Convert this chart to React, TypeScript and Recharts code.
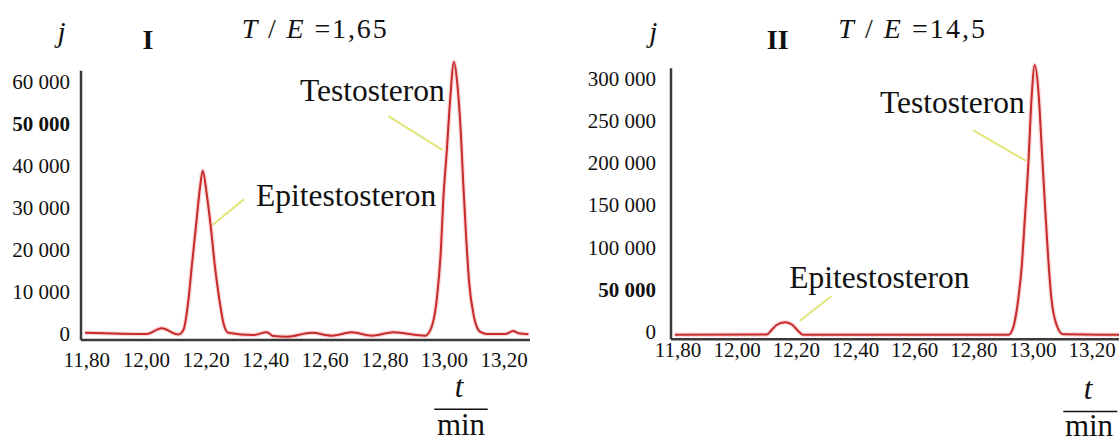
import React from "react";
import { LineChart, Line, XAxis, YAxis, ReferenceLine } from "recharts";

// ---------- Panel I data (t in min, j signal) ----------
const timeI = [
  11.794, 12.001, 12.051, 12.107, 12.124, 12.141, 12.152, 12.166, 12.18, 12.189,
  12.202, 12.216, 12.23, 12.245, 12.26, 12.275, 12.359, 12.404, 12.426, 12.471,
  12.555, 12.622, 12.689, 12.756, 12.829, 12.935, 12.957, 12.974, 12.988, 12.996,
  13.008, 13.019, 13.032, 13.043, 13.055, 13.063, 13.072, 13.083, 13.099, 13.119,
  13.142, 13.203, 13.231, 13.248, 13.282,
];
const signalI = [
  300, 0, 1350, -100, 950, 8100, 16000, 25500, 35000, 38900,
  33500, 25500, 16000, 8100, 2150, 300, -240, 400, -480, -640,
  300, -400, 400, -400, 400, -400, 1700, 8100, 20000, 31900,
  43800, 55700, 64800, 59700, 47800, 35900, 24000, 12100, 4100, 550,
  0, 0, 700, 170, -70,
];

// ---------- Panel II data ----------
const timeII = [
  11.789, 12.1, 12.116, 12.133, 12.162, 12.187, 12.205, 12.222, 12.917, 12.934,
  12.95, 12.962, 12.973, 12.984, 12.995, 13.006, 13.019, 13.03, 13.041, 13.052,
  13.063, 13.08, 13.102, 13.291,
];
const signalII = [
  -3000, -2600, 2700, 8600, 11800, 8600, 1900, -2800, -3000, 6600,
  38200, 77600, 136700, 195800, 274700, 316100, 282600, 215600, 148500, 85500,
  38200, 8600, -2400, -3000,
];

// ---------- Axes ----------
const xTicks = [11.8, 12.0, 12.2, 12.4, 12.6, 12.8, 13.0, 13.2];
const yTicksI = [0, 10000, 20000, 30000, 40000, 50000, 60000];
const yTicksII = [0, 50000, 100000, 150000, 200000, 250000, 300000];
const boldTickI = 50000;
const boldTickII = 50000;

const xDomainI: [number, number] = [11.7805, 13.287];
const yDomainI: [number, number] = [-1430, 66200];
const yAxisTopI = 62670;
const xDomainII: [number, number] = [11.776, 13.291];
const yDomainII: [number, number] = [-8280, 326750];
const yAxisTopII = 312200;

// leader lines (data coords): [t1, j1, t2, j2]
const leaderTestoI = [12.812, 51900, 12.994, 43800];
const leaderEpiI = [12.327, 32060, 12.222, 25940];
const leaderTestoII = [12.798, 239200, 12.976, 202600];
const leaderEpiII = [12.319, 42900, 12.212, 13700];

const dataI = timeI.map((t, i) => ({ t, j: signalI[i] }));
const dataII = timeII.map((t, i) => ({ t, j: signalII[i] }));

const FONT = '"Liberation Serif", "Times New Roman", serif';
const LINE = "#c92a2a";
const AXIS = "#3a3a3a";
const LEADER = "#e2e57a";

const fmtX = (v: number) => v.toFixed(2).replace(".", ",");
const fmtY = (v: number) => (v === 0 ? "0" : `${Math.round(v / 1000)} 000`);

const makeXTick = (off: number) => (props: any) => {
  const { x, y, payload } = props;
  return (
    <text x={x} y={y + off} textAnchor="middle" fontFamily={FONT} fontSize={21} fill="#111">
      {fmtX(payload.value)}
    </text>
  );
};

const makeYTick = (gap: number, bold: number) => (props: any) => {
  const { x, y, payload } = props;
  return (
    <text
      x={x - gap}
      y={y + 7}
      textAnchor="end"
      fontFamily={FONT}
      fontSize={21}
      fontWeight={payload.value === bold ? "bold" : "normal"}
      fill="#111"
    >
      {fmtY(payload.value)}
    </text>
  );
};

const leader = (l: number[], key: string) => (
  <ReferenceLine
    key={key}
    segment={[
      { x: l[0], y: l[1] },
      { x: l[2], y: l[3] },
    ]}
    stroke={LEADER}
    strokeWidth={2}
    ifOverflow="visible"
  />
);

function Panel(props: {
  left: number;
  width: number;
  yAxisWidth: number;
  marginRight: number;
  marginBottom: number;
  data: any[];
  xDomain: [number, number];
  yDomain: [number, number];
  yTicks: number[];
  yAxisTop: number;
  xOff: number;
  yGap: number;
  bold: number;
  leaders: number[][];
}) {
  const p = props;
  return (
    <div style={{ position: "absolute", left: p.left, top: 0 }}>
      <LineChart
        width={p.width}
        height={444}
        data={p.data}
        margin={{ top: 56, right: p.marginRight, bottom: p.marginBottom, left: 0 }}
      >
        <XAxis
          dataKey="t"
          type="number"
          domain={p.xDomain}
          ticks={xTicks}
          interval={0}
          tickSize={0}
          tickMargin={0}
          tickLine={false}
          height={30}
          axisLine={{ stroke: AXIS, strokeWidth: 2.5 }}
          tick={makeXTick(p.xOff)}
        />
        <YAxis
          type="number"
          domain={p.yDomain}
          ticks={p.yTicks}
          interval={0}
          width={p.yAxisWidth}
          tickSize={0}
          tickMargin={0}
          tickLine={false}
          axisLine={false}
          tick={makeYTick(p.yGap, p.bold)}
        />
        <ReferenceLine
          segment={[
            { x: p.xDomain[0], y: p.yDomain[0] },
            { x: p.xDomain[0], y: p.yAxisTop },
          ]}
          stroke={AXIS}
          strokeWidth={2.5}
          ifOverflow="visible"
        />
        {p.leaders.map((l, i) => leader(l, "ld" + i))}
        <Line
          dataKey="j"
          type="monotone"
          stroke="#f2b8b8"
          strokeWidth={4.5}
          strokeOpacity={0.55}
          dot={false}
          activeDot={false}
          isAnimationActive={false}
        />
        <Line
          dataKey="j"
          type="monotone"
          stroke={LINE}
          strokeWidth={2}
          dot={false}
          activeDot={false}
          isAnimationActive={false}
        />
      </LineChart>
    </div>
  );
}

function Labels() {
  const t = { fontFamily: FONT, fill: "#111" } as const;
  return (
    <svg
      width={1119}
      height={444}
      style={{ position: "absolute", left: 0, top: 0, pointerEvents: "none" }}
    >
      {/* Panel I */}
      <text {...t} x={61.5} y={42} fontSize={29} fontStyle="italic" textAnchor="middle">j</text>
      <text {...t} x={148} y={49.3} fontSize={28} fontWeight="bold" textAnchor="middle">I</text>
      <text {...t} x={241.7} y={38.3} fontSize={28} textLength={145} lengthAdjust="spacing">
        <tspan fontStyle="italic">T</tspan> / <tspan fontStyle="italic">E</tspan> =1,65
      </text>
      <text {...t} x={300} y={100.7} fontSize={31.5}>Testosteron</text>
      <text {...t} x={256} y={206} fontSize={31.5}>Epitestosteron</text>
      <text {...t} x={459} y={397} fontSize={31} fontStyle="italic" textAnchor="middle">t</text>
      <line x1={434.3} x2={487.7} y1={409.3} y2={409.3} stroke="#111" strokeWidth={1.6} />
      <text {...t} x={461} y={435} fontSize={31} textAnchor="middle">min</text>

      {/* Panel II */}
      <text {...t} x={653.3} y={42} fontSize={29} fontStyle="italic" textAnchor="middle">j</text>
      <text {...t} x={777.7} y={49.3} fontSize={28} fontWeight="bold" textAnchor="middle">II</text>
      <text {...t} x={838.3} y={38.3} fontSize={28} textLength={146.7} lengthAdjust="spacing">
        <tspan fontStyle="italic">T</tspan> / <tspan fontStyle="italic">E</tspan> =14,5
      </text>
      <text {...t} x={880} y={112.7} fontSize={31.5}>Testosteron</text>
      <text {...t} x={789.3} y={288.3} fontSize={31.5}>Epitestosteron</text>
      <text {...t} x={1088} y={399} fontSize={31} fontStyle="italic" textAnchor="middle">t</text>
      <line x1={1063.3} x2={1117.3} y1={411.5} y2={411.5} stroke="#111" strokeWidth={1.6} />
      <text {...t} x={1089} y={436} fontSize={31} textAnchor="middle">min</text>
    </svg>
  );
}

export default function App() {
  return (
    <div
      style={{
        position: "absolute",
        left: 0,
        top: 0,
        width: 1119,
        height: 444,
        overflow: "hidden",
        background: "#fff",
      }}
    >
      <Panel
        left={0}
        width={560}
        yAxisWidth={81}
        marginRight={30}
        marginBottom={74}
        data={dataI}
        xDomain={xDomainI}
        yDomain={yDomainI}
        yTicks={yTicksI}
        yAxisTop={yAxisTopI}
        xOff={26.7}
        yGap={11}
        bold={boldTickI}
        leaders={[leaderTestoI, leaderEpiI]}
      />
      <Panel
        left={560}
        width={559}
        yAxisWidth={111}
        marginRight={0}
        marginBottom={74.7}
        data={dataII}
        xDomain={xDomainII}
        yDomain={yDomainII}
        yTicks={yTicksII}
        yAxisTop={yAxisTopII}
        xOff={18}
        yGap={15}
        bold={boldTickII}
        leaders={[leaderTestoII, leaderEpiII]}
      />
      <Labels />
    </div>
  );
}
